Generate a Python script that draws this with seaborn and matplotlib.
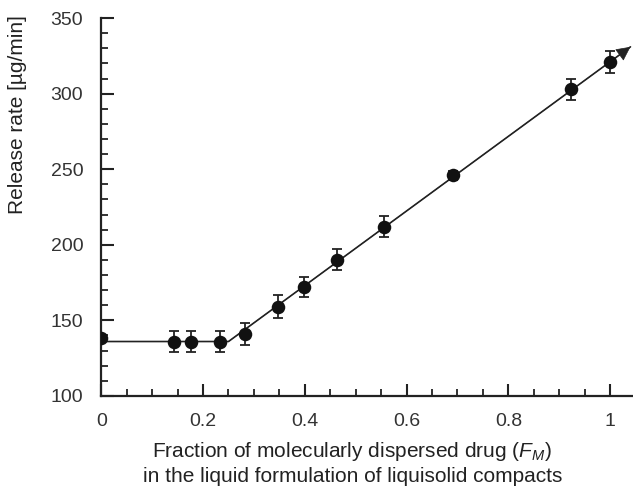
import matplotlib
matplotlib.use("Agg")
import matplotlib.pyplot as plt
import seaborn as sns
import numpy as np
import pandas as pd
from matplotlib.ticker import MultipleLocator

# Data
fm = [0.0, 0.143, 0.177, 0.234, 0.283, 0.348, 0.399, 0.464, 0.556, 0.691, 0.923, 1.0]
rate = [138, 136, 136, 136, 141, 159, 172, 190, 212, 246, 303, 321]
err = [0, 7, 7, 7, 7, 7.5, 6.5, 7, 7, 3, 7, 7]

fit_x = [0.0, 0.25, 1.04]
fit_y = [136, 136, 331]

xticks = [0, 0.2, 0.4, 0.6, 0.8, 1.0]
xticklabels = ["0", "0.2", "0.4", "0.6", "0.8", "1"]
yticks = [100, 150, 200, 250, 300, 350]

sns.set_theme(style="ticks")
plt.rcParams["font.family"] = ["Liberation Sans", "DejaVu Sans"]
plt.rcParams["mathtext.fontset"] = "custom"
plt.rcParams["mathtext.it"] = "Liberation Sans:italic"
plt.rcParams["mathtext.rm"] = "Liberation Sans"

fig = plt.figure(figsize=(6.33, 4.90), dpi=100)
ax = fig.add_axes([0.16, 0.192, 0.84, 0.771])

df = pd.DataFrame({"fm": fm, "rate": rate, "err": err})
fit = pd.DataFrame({"x": fit_x, "y": fit_y})

sns.lineplot(data=fit, x="x", y="y", ax=ax, color="#222222", lw=1.2, zorder=2)
ax.annotate("", xy=(fit_x[-1], fit_y[-1]), xytext=(fit_x[-2], fit_y[-2]),
            arrowprops=dict(arrowstyle="-|>,head_length=0.7,head_width=0.35",
                            color="#222222", lw=0.5,
                            mutation_scale=13, shrinkA=0, shrinkB=0),
            annotation_clip=False)
ax.errorbar(df["fm"], df["rate"], yerr=df["err"], fmt="none", ecolor="#222222",
            elinewidth=1.3, capsize=3.5, capthick=1.3, zorder=3)
sns.scatterplot(data=df, x="fm", y="rate", ax=ax, color="#111111", s=95,
                edgecolor="#111111", linewidth=0, zorder=4)

ax.set_xlim(0, 1.045)
ax.set_ylim(100, 350)
ax.set_xticks(xticks)
ax.set_xticklabels(xticklabels)
ax.set_yticks(yticks)
ax.xaxis.set_minor_locator(MultipleLocator(0.05))
ax.yaxis.set_minor_locator(MultipleLocator(10))

for s in ["top", "right"]:
    ax.spines[s].set_visible(False)
for s in ["left", "bottom"]:
    ax.spines[s].set_linewidth(1.6)
    ax.spines[s].set_color("#222222")
ax.spines["left"].set_bounds(100, 350)

ax.tick_params(axis="both", which="major", direction="in", length=9, width=1.5,
               color="#222222", labelsize=14, labelcolor="#333333")
ax.tick_params(axis="both", which="minor", direction="in", length=5, width=1.3,
               color="#222222")
ax.tick_params(axis="y", which="major", pad=13)
ax.tick_params(axis="x", which="major", pad=12.5)

ax.set_ylabel("Release rate [µg/min]", fontsize=15, color="#222222")
ax.yaxis.set_label_coords(-0.157, 0.745, transform=ax.transAxes)
ax.yaxis.label.set_verticalalignment("center")

ax.set_xlabel("Fraction of molecularly dispersed drug ($F_M$)\nin the liquid formulation of liquisolid compacts",
              fontsize=15, color="#222222", linespacing=1.25)
ax.xaxis.set_label_coords(0.472, -0.178, transform=ax.transAxes)
ax.xaxis.label.set_verticalalignment("center")

fig.savefig("out.png", dpi=100)
